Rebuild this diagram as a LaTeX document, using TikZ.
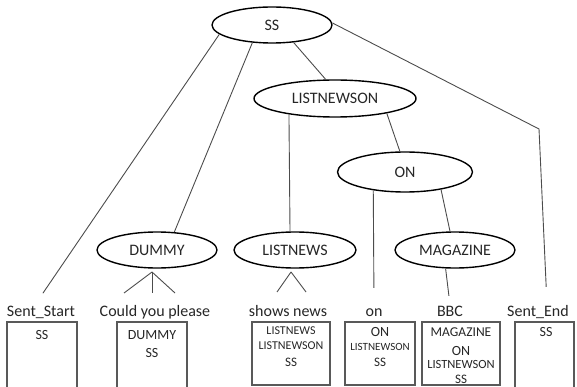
\documentclass[tikz,border=0pt]{standalone}
\usepackage{fontspec}
\setmainfont{Carlito}
\usetikzlibrary{shapes.geometric}
\begin{document}
\begin{tikzpicture}[x=1pt,y=-1pt,
    phrase/.style={ellipse,draw=black,line width=1.4pt,inner sep=0pt,minimum width=120pt,minimum height=36pt,text=black!85,font=\fontsize{16}{19}\selectfont},
    word/.style={inner sep=0pt,anchor=base,text height=11pt,text depth=3pt,text=black!85,font=\fontsize{16}{19}\selectfont},
    link/.style={draw=black!70,line width=0.9pt},
    cell/.style={draw=black!65,line width=1.2pt},
    entry/.style={inner sep=0pt,anchor=base,text=black!85,font=\fontsize{13}{15}\selectfont}]
    \clip (0,0) rectangle (577,387);

    % tree
    \node[phrase] (ss) at (272,25) {SS};
    \node[phrase,minimum width=162pt,minimum height=37pt] (listnewson) at (335,98.5) {LISTNEWSON};
    \node[phrase,minimum width=135pt,minimum height=40pt] (on) at (405,172) {ON};
    \node[phrase] (dummy) at (157,250) {DUMMY};
    \node[phrase,minimum width=122pt] (listnews) at (295,250) {LISTNEWS};
    \node[phrase] (magazine) at (455,250) {MAGAZINE};

    % words
    \node[word] (sstart) at (41,316) {Sent\_Start};
    \node[word] (could) at (155,316) {Could you please};
    \node[word] (shows) at (288,316) {shows news};
    \node[word] (onw) at (374,316) {on};
    \node[word] (bbc) at (450,316) {BBC};
    \node[word] (send) at (538,316) {Sent\_End};

    \coordinate (bend) at (539,129);
    \coordinate (dtop) at (152,272);
    \coordinate (dl) at (124,293);
    \coordinate (dm) at (152,293);
    \coordinate (dr) at (175,293);
    \coordinate (ltop) at (291,272);
    \coordinate (ll) at (277,292);
    \coordinate (lr) at (306,292);

    \draw[link,shorten >=14pt] (ss.190) -- ([xshift=-6pt]sstart.north);
    \draw[link] (ss.222) -- (dummy.46);
    \draw[link] (ss.321) -- (listnewson.116);
    \draw[link,shorten >=18pt] (ss.2) -- (bend) -- ([xshift=9pt]send.north);
    \draw[link] (listnewson.199) -- (listnews.105);
    \draw[link] (listnewson.344) -- (on.104);
    \draw[link,shorten >=17pt] (on.210) -- (onw.north);
    \draw[link] (on.334) -- (magazine.105);
    \draw[link,shorten >=9pt] (magazine.243) -- (bbc.north);

    \draw[link] (dtop) -- (dl);
    \draw[link] (dtop) -- (dm);
    \draw[link] (dtop) -- (dr);
    \draw[link] (ltop) -- (ll);
    \draw[link] (ltop) -- (lr);

    % boxes
    \draw[cell] (7,322) rectangle (77,392);
    \draw[cell] (117,322) rectangle (187,392);
    \draw[cell] (252,322) rectangle (330,385);
    \draw[cell] (345,322) rectangle (415,385);
    \draw[cell] (422,322) rectangle (500,385);
    \draw[cell] (515,322) rectangle (574,392);

    \node[entry,font=\fontsize{14}{16}\selectfont] (b1a) at (42,339.5) {SS};
    \node[entry,font=\fontsize{14}{16}\selectfont] (b2a) at (152,339.5) {DUMMY};
    \node[entry,font=\fontsize{14}{16}\selectfont] (b2b) at (152,357.5) {SS};
    \node[entry,font=\fontsize{12}{14}\selectfont] (b3a) at (291,334) {LISTNEWS};
    \node[entry,font=\fontsize{12}{14}\selectfont] (b3b) at (291,349) {LISTNEWSON};
    \node[entry] (b3c) at (291,366) {SS};
    \node[entry,font=\fontsize{14}{16}\selectfont] (b4a) at (380,336.5) {ON};
    \node[entry,font=\fontsize{11}{13}\selectfont] (b4b) at (380,350.5) {LISTNEWSON};
    \node[entry] (b4c) at (380,366) {SS};
    \node[entry,font=\fontsize{13.5}{16}\selectfont] (b5a) at (461,336.5) {MAGAZINE};
    \node[entry,font=\fontsize{14}{16}\selectfont] (b5b) at (461,355.5) {ON};
    \node[entry,font=\fontsize{12.5}{15}\selectfont] (b5c) at (461,368.5) {LISTNEWSON};
    \node[entry] (b5d) at (461,383.5) {SS};
    \node[entry,font=\fontsize{14}{16}\selectfont] (b6a) at (546,336.5) {SS};
\end{tikzpicture}
\end{document}
